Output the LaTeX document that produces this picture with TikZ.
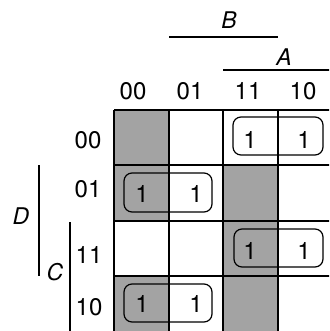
\documentclass[tikz,border=0pt]{standalone}
\usepackage{fontspec}
\setmainfont{TeX Gyre Heros}
\definecolor{shade}{rgb}{0.64,0.64,0.64}
\tikzset{
  grid/.style={line width=1.3pt, black},
  shaded/.style={fill=shade, draw=none},
  loop/.style={line width=1.2pt, rounded corners=8pt, draw=black},
  lbl/.style={font=\fontsize{24}{28}\selectfont, inner sep=0pt},
  var/.style={font=\fontsize{23}{27}\selectfont\itshape, inner sep=0pt},
  bar/.style={line width=1.1pt}
}
\begin{document}
\begin{tikzpicture}[x=1pt,y=-1pt]
\useasboundingbox (0,0) rectangle (329,331);
\begin{scope}
\clip (0,0) rectangle (329,331);
% shaded cells
\fill[shaded] (114,110) rectangle (169,221);
\fill[shaded] (114,276) rectangle (169,340);
\fill[shaded] (223,165) rectangle (278,340);
% grid
\foreach \x in {114,169,223,278} \draw[grid] (\x,110) -- (\x,340);
\foreach \y in {110,165,221,276} \draw[grid] (114,\y) -- (340,\y);
% loops
\draw[loop] (233,117) rectangle (323,155);
\draw[loop] (124,173) rectangle (212,212);
\draw[loop] (234,229) rectangle (323,267);
\draw[loop] (124,284) rectangle (212,322);
% ones
\foreach \x/\y/\n in {250/140/a1,304/140/a2,142/194/b1,196/194/b2,250/251/c1,304/251/c2,142/304/d1,196/304/d2}
  \node[lbl] (\n) at (\x,\y) {1};
% variable bars
\coordinate (bs) at (169,37); \coordinate (be) at (278,37);
\draw[bar] (bs) -- (be);
\coordinate (as) at (223,70); \coordinate (ae) at (340,70);
\draw[bar] (as) -- (ae);
\coordinate (ds) at (39,165); \coordinate (de) at (39,276);
\draw[bar] (ds) -- (de);
\coordinate (cs) at (70,222); \coordinate (ce) at (70,340);
\draw[bar] (cs) -- (ce);
\end{scope}
% column labels
\node[lbl] (c00) at (133,91) {00};
\node[lbl] (c01) at (190,91) {01};
\node[lbl] (c11) at (248,91) {11};
\node[lbl] (c10) at (303,91) {10};
% row labels
\node[lbl] (r00) at (88,140) {00};
\node[lbl] (r01) at (88,189) {01};
\node[lbl] (r11) at (89,255) {11};
\node[lbl] (r10) at (89,307) {10};
% variables
\node[var] (B) at (229,20) {B};
\node[var] (A) at (284,57) {A};
\node[var] (D) at (21,216) {D};
\node[var] (C) at (55,272) {C};
\end{tikzpicture}
\end{document}
